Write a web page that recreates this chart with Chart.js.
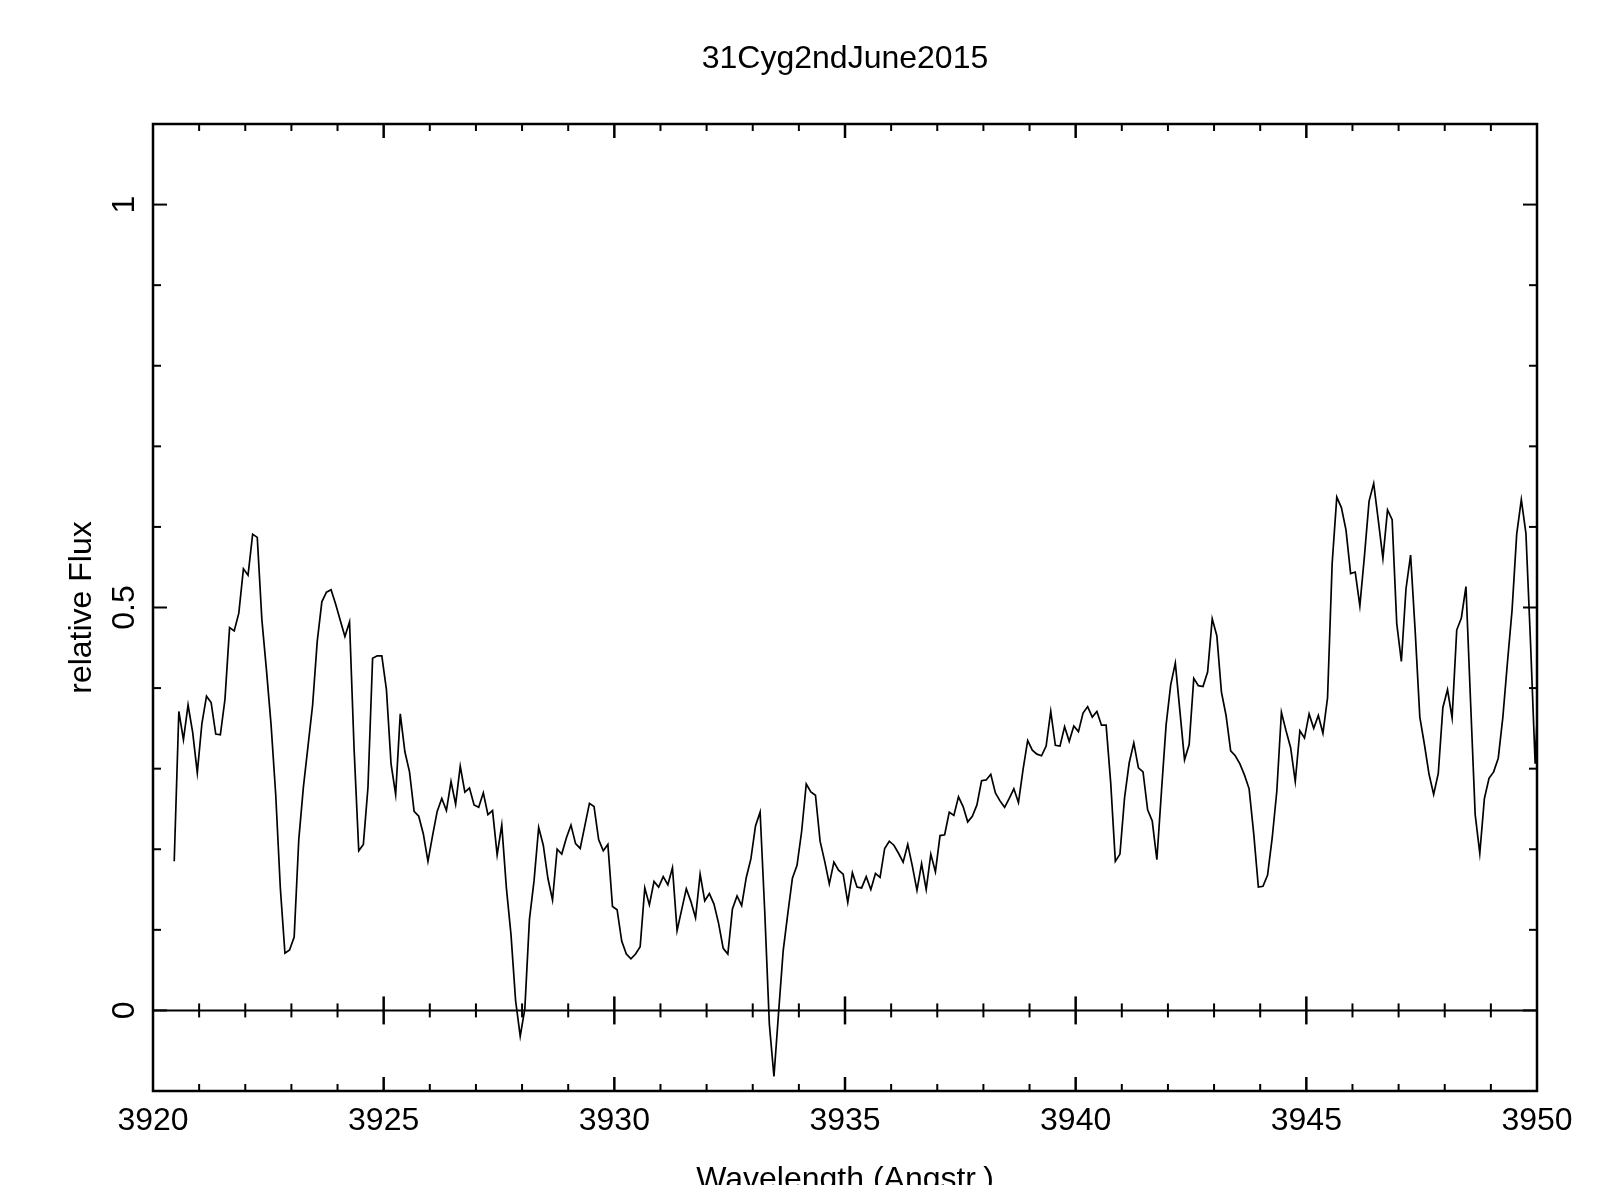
<!DOCTYPE html>
<html>
<head>
<meta charset="utf-8">
<title>31Cyg2ndJune2015</title>
<script src="https://cdn.jsdelivr.net/npm/chart.js@4.4.0/dist/chart.umd.min.js"></script>
<style>
  html, body { margin: 0; padding: 0; background: #fff; overflow: hidden; }
  #chart { display: block; }
</style>
</head>
<body>
<canvas id="chart" width="1621" height="1185"></canvas>
<script>
const chartTitle = "31Cyg2ndJune2015";
const xAxisTitle = "Wavelength (Angstr.)";
const yAxisTitle = "relative Flux";

const xTickLabels = [3920, 3925, 3930, 3935, 3940, 3945, 3950];
const yTickLabels = [0, 0.5, 1];
const xMinorStep = 1;    // Angstrom
const yMinorStep = 0.1;

// spectrum grid: first pixel and dispersion (Angstrom per pixel)
const lambdaStart = 3920.46;
const lambdaStep = 0.1;

// relative flux
const flux = [
  0.185, 0.371, 0.336, 0.379, 0.345, 0.295, 0.356, 0.390, 0.382, 0.343,
  0.342, 0.386, 0.475, 0.471, 0.493, 0.548, 0.540, 0.591, 0.587, 0.485,
  0.422, 0.354, 0.268, 0.152, 0.071, 0.075, 0.091, 0.212, 0.277, 0.328,
  0.379, 0.458, 0.507, 0.519, 0.522, 0.504, 0.484, 0.464, 0.482, 0.323,
  0.198, 0.206, 0.277, 0.437, 0.440, 0.440, 0.398, 0.306, 0.268, 0.368,
  0.321, 0.296, 0.247, 0.241, 0.219, 0.185, 0.217, 0.247, 0.263, 0.248,
  0.284, 0.256, 0.303, 0.271, 0.276, 0.255, 0.252, 0.270, 0.243, 0.248,
  0.193, 0.230, 0.152, 0.094, 0.012, -0.032, 0.002, 0.113, 0.161, 0.227,
  0.205, 0.164, 0.137, 0.200, 0.194, 0.214, 0.230, 0.207, 0.201, 0.229,
  0.257, 0.253, 0.212, 0.198, 0.206, 0.129, 0.125, 0.086, 0.070, 0.064,
  0.070, 0.079, 0.152, 0.131, 0.160, 0.153, 0.166, 0.156, 0.177, 0.099,
  0.125, 0.151, 0.135, 0.115, 0.169, 0.136, 0.145, 0.132, 0.108, 0.077,
  0.070, 0.126, 0.142, 0.130, 0.165, 0.188, 0.229, 0.246, 0.123, -0.017,
  -0.082, -0.003, 0.074, 0.120, 0.164, 0.180, 0.222, 0.281, 0.271, 0.267,
  0.210, 0.185, 0.157, 0.184, 0.174, 0.169, 0.134, 0.171, 0.153, 0.152,
  0.166, 0.150, 0.170, 0.165, 0.201, 0.210, 0.205, 0.195, 0.184, 0.206,
  0.179, 0.149, 0.182, 0.150, 0.194, 0.172, 0.217, 0.218, 0.246, 0.242,
  0.265, 0.253, 0.234, 0.241, 0.255, 0.285, 0.286, 0.293, 0.270, 0.260,
  0.252, 0.263, 0.275, 0.258, 0.299, 0.335, 0.323, 0.318, 0.316, 0.328,
  0.371, 0.329, 0.328, 0.352, 0.334, 0.353, 0.346, 0.369, 0.377, 0.364,
  0.371, 0.354, 0.354, 0.282, 0.185, 0.194, 0.264, 0.307, 0.332, 0.301,
  0.296, 0.249, 0.235, 0.187, 0.272, 0.354, 0.404, 0.431, 0.371, 0.311,
  0.330, 0.412, 0.403, 0.402, 0.420, 0.486, 0.465, 0.395, 0.366, 0.322,
  0.316, 0.306, 0.292, 0.275, 0.219, 0.153, 0.154, 0.168, 0.214, 0.272,
  0.370, 0.347, 0.326, 0.284, 0.347, 0.338, 0.368, 0.350, 0.366, 0.344,
  0.388, 0.555, 0.637, 0.624, 0.596, 0.542, 0.544, 0.502, 0.564, 0.632,
  0.654, 0.608, 0.561, 0.621, 0.609, 0.480, 0.433, 0.523, 0.565, 0.470,
  0.364, 0.330, 0.293, 0.268, 0.294, 0.376, 0.398, 0.363, 0.472, 0.487,
  0.526, 0.383, 0.243, 0.195, 0.263, 0.288, 0.296, 0.313, 0.364, 0.432,
  0.497, 0.591, 0.634, 0.592, 0.456, 0.306, 0.440
];

const FONT = '32px "Liberation Sans", Arial, sans-serif';

const points = flux.map((f, i) => ({ x: lambdaStart + i * lambdaStep, y: f }));

function seg(ctx, x1, y1, x2, y2) {
  ctx.beginPath();
  ctx.moveTo(x1, y1);
  ctx.lineTo(x2, y2);
  ctx.stroke();
}

// PGPLOT-like frame: box, inward ticks, zero axis, labels
const pgplotFrame = {
  id: 'pgplotFrame',
  afterDatasetsDraw(chart) {
    const ctx = chart.ctx;
    const { left, right, top, bottom } = chart.chartArea;
    const xs = chart.scales.x;
    const ys = chart.scales.y;
    const y0 = ys.getPixelForValue(0);

    ctx.save();
    ctx.strokeStyle = '#000';
    ctx.fillStyle = '#000';

    // zero line
    ctx.lineWidth = 2;
    seg(ctx, left, y0, right, y0);

    // x ticks (top, bottom and on the zero line)
    const nx = Math.round((xs.max - xs.min) / xMinorStep);
    for (let i = 1; i < nx; i++) {
      const w = xs.min + i * xMinorStep;
      const px = xs.getPixelForValue(w);
      const major = xTickLabels.includes(w);
      const len = major ? 14 : 7;
      ctx.lineWidth = major ? 2.5 : 2;
      seg(ctx, px, bottom, px, bottom - len);
      seg(ctx, px, top, px, top + len);
      seg(ctx, px, y0 - len, px, y0 + len);
    }

    // y ticks (left and right)
    const ny = Math.round((ys.max - ys.min) / yMinorStep);
    for (let i = 1; i < ny; i++) {
      const v = +(ys.min + i * yMinorStep).toFixed(2);
      const py = ys.getPixelForValue(v);
      const major = yTickLabels.includes(v);
      const len = major ? 14 : 8;
      ctx.lineWidth = 2;
      seg(ctx, left, py, left + len, py);
      seg(ctx, right, py, right - len, py);
    }

    // box
    ctx.lineWidth = 2.5;
    ctx.strokeRect(left, top, right - left, bottom - top);

    ctx.font = FONT;

    // x tick labels
    ctx.textAlign = 'center';
    ctx.textBaseline = 'alphabetic';
    xTickLabels.forEach(w => {
      ctx.fillText(String(w), xs.getPixelForValue(w), 1130);
    });

    // title and x axis title
    const cx = (left + right) / 2;
    ctx.fillText(chartTitle, cx, 68);
    ctx.fillText(xAxisTitle, cx, 1189);

    // y tick labels, rotated
    yTickLabels.forEach(v => {
      ctx.save();
      ctx.translate(134, ys.getPixelForValue(v));
      ctx.rotate(-Math.PI / 2);
      ctx.textAlign = 'center';
      ctx.fillText(String(v), 0, 0);
      ctx.restore();
    });

    // y axis title
    ctx.save();
    ctx.translate(91, (top + bottom) / 2);
    ctx.rotate(-Math.PI / 2);
    ctx.textAlign = 'center';
    ctx.fillText(yAxisTitle, 0, 0);
    ctx.restore();

    ctx.restore();
  }
};

const ctx = document.getElementById('chart').getContext('2d');
new Chart(ctx, {
  type: 'line',
  data: {
    datasets: [{
      label: chartTitle,
      data: points,
      borderColor: '#000',
      borderWidth: 1.7,
      pointRadius: 0,
      tension: 0,
      fill: false
    }]
  },
  options: {
    responsive: false,
    animation: false,
    layout: { padding: { left: 153, right: 84, top: 124, bottom: 94 } },
    plugins: {
      legend: { display: false },
      tooltip: { enabled: false }
    },
    scales: {
      x: { type: 'linear', min: 3920, max: 3950, display: false },
      y: { type: 'linear', min: -0.1, max: 1.1, display: false }
    }
  },
  plugins: [pgplotFrame]
});
</script>
</body>
</html>
